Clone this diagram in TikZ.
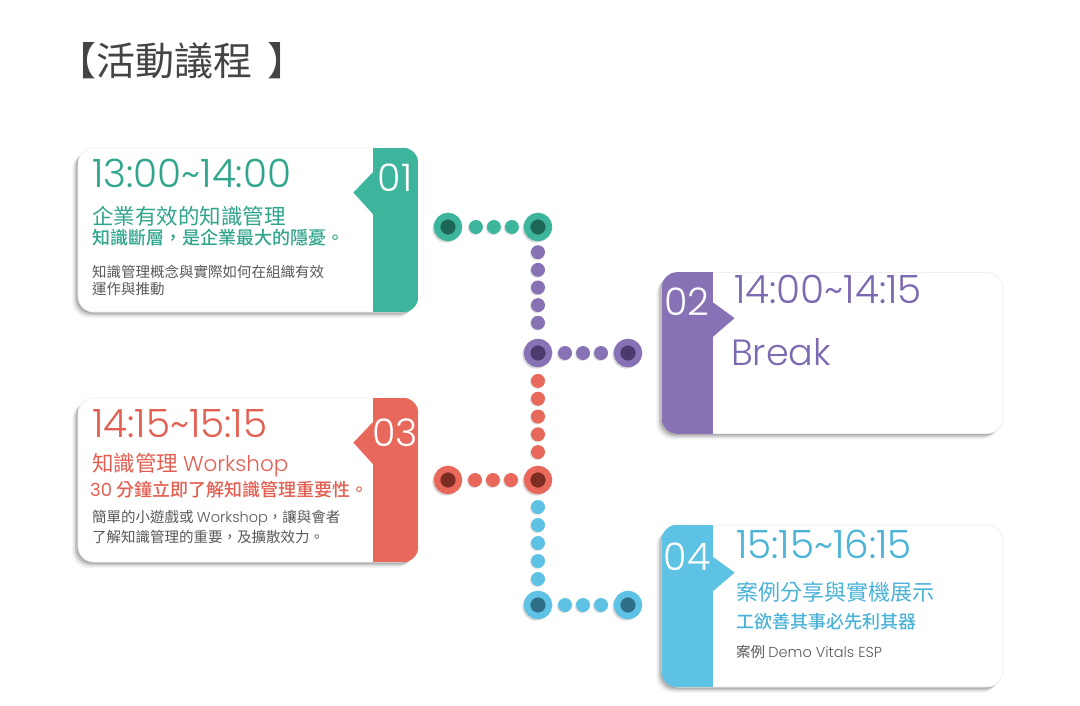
\documentclass[tikz,border=0pt]{standalone}
\usepackage{fontspec}
\usepackage{xcolor}
\usepackage{tikz}
\usetikzlibrary{shadows,calc}
\newfontfamily\cjk{Noto Sans CJK TC}
\newfontfamily\cjkmed{Noto Sans CJK TC Medium}
\newfontfamily\gothic{Poppins Light}
\newfontfamily\gothicreg{Poppins}

\definecolor{tealc}{HTML}{3DB59D}
\definecolor{tealdk}{HTML}{1E6656}
\definecolor{tealt}{HTML}{2FA58C}
\definecolor{purplec}{HTML}{8672B5}
\definecolor{purpledk}{HTML}{4A3A6E}
\definecolor{purplet}{HTML}{7C69B1}
\definecolor{redc}{HTML}{E8685C}
\definecolor{reddk}{HTML}{7E2D25}
\definecolor{redt}{HTML}{E35F52}
\definecolor{bluec}{HTML}{5DC2E4}
\definecolor{bluedk}{HTML}{2F6E85}
\definecolor{bluet}{HTML}{4BB3D8}
\definecolor{notegray}{HTML}{595959}
\definecolor{titlegray}{HTML}{444444}

\begin{document}
\begin{tikzpicture}[x=1pt,y=-1pt,
	card/.style={rectangle, rounded corners=16pt, fill=white, draw=black!6, line width=0.8pt, inner sep=0pt,
		drop shadow={shadow xshift=-6pt, shadow yshift=-6pt, opacity=.08},
		drop shadow={shadow xshift=-4.5pt, shadow yshift=-4.5pt, opacity=.15},
		drop shadow={shadow xshift=-3pt, shadow yshift=-3pt, opacity=.3},
		drop shadow={shadow xshift=-1.5pt, shadow yshift=-1.5pt, opacity=.35}},
	hub/.style 2 args={circle, inner sep=0pt, minimum size=22pt, fill=#2, draw=#1, line width=6.5pt,
		drop shadow={shadow xshift=-1.5pt, shadow yshift=-1.5pt, shadow scale=1.25, opacity=.3}},
	dot/.style={drop shadow={shadow xshift=-1pt, shadow yshift=-1pt, opacity=.25}},
	time/.style={anchor=base west, inner sep=0pt, font=\gothic\fontsize{39}{39}\selectfont},
	num/.style={inner sep=0pt, text=white, font=\gothic\fontsize{38}{38}\selectfont},
	head/.style={anchor=west, inner sep=0pt, font=\cjk\fontsize{21.5}{22}\selectfont},
	sub/.style={anchor=west, inner sep=0pt, font=\cjkmed\fontsize{18}{18}\selectfont},
	note/.style={anchor=west, inner sep=0pt, text=notegray, font=\cjk\fontsize{14.5}{15}\selectfont}]
	\useasboundingbox (0,0) rectangle (1080,705);
	\fill[white] (0,0) rectangle (1080,705);
	
	% title
	\node[anchor=west, inner sep=0pt, text=titlegray, font=\cjk\fontsize{39}{39}\selectfont] (title) at (57,61) {【活動議程\hspace{15pt}】};
	
	% draw the four cards
	\node[card, minimum width=340pt, minimum height=164pt] (c1) at (248,230) {};
	\node[card, minimum width=341pt, minimum height=161pt] (c2) at (832.5,353) {};
	\node[card, minimum width=340pt, minimum height=164pt] (c3) at (248,480) {};
	\node[card, minimum width=341pt, minimum height=162pt] (c4) at (832.5,606) {};
	
	% colour strips and their notches
	\begin{scope}
		\clip[rounded corners=16pt] (c1.north west) rectangle (c1.south east);
		\fill[tealc] ([xshift=-45pt]c1.north east) rectangle (c1.south east);
	\end{scope}
	\fill[tealc] ([xshift=-45pt,yshift=-24pt]c1.north east) -- ++(-20,21) -- ++(20,22) -- cycle;
	
	\begin{scope}
		\clip[rounded corners=16pt] (c2.north west) rectangle (c2.south east);
		\fill[purplec] (c2.north west) rectangle ([xshift=51pt]c2.south west);
	\end{scope}
	\fill[purplec] ([xshift=51pt,yshift=-30pt]c2.north west) -- ++(22,16) -- ++(-22,19) -- cycle;
	
	\begin{scope}
		\clip[rounded corners=16pt] (c3.north west) rectangle (c3.south east);
		\fill[redc] ([xshift=-45pt]c3.north east) rectangle (c3.south east);
	\end{scope}
	\fill[redc] ([xshift=-45pt,yshift=-24pt]c3.north east) -- ++(-20,21) -- ++(20,22) -- cycle;
	
	\begin{scope}
		\clip[rounded corners=16pt] (c4.north west) rectangle (c4.south east);
		\fill[bluec] (c4.north west) rectangle ([xshift=51pt]c4.south west);
	\end{scope}
	\fill[bluec] ([xshift=51pt,yshift=-32pt]c4.north west) -- ++(22,16) -- ++(-22,19) -- cycle;
	
	% card 01
	\node[num] (n1) at (395,178) {01};
	\node[time, text=tealt] (time1) at (92,187) {13:00{\char"007E}14:00};
	\node[head, text=tealt] (head1) at (92,216) {企業有效的知識管理};
	\node[sub, text=tealt] (sub1) at (92,238) {知識斷層，是企業最大的隱憂。};
	\node[note] (note1a) at (92,272) {知識管理概念與實際如何在組織有效};
	\node[note] (note1b) at (92,289) {運作與推動};
	
	% card 02
	\node[num] (n2) at (687,302) {02};
	\node[time, text=purplet] (time2) at (734,303) {14:00{\char"007E}14:15};
	\node[time, text=purplet, font=\gothic\fontsize{36.5}{36}\selectfont] (brk) at (731,365) {Break};
	
	% card 03
	\node[num] (n3) at (395,433) {03};
	\node[time, text=redt] (time3) at (92,437) {14:15{\char"007E}15:15};
	\node[head, text=redt] (head3) at (92,465) {知識管理 {\gothic Workshop}};
	\node[sub, text=redt] (sub3) at (90,490) {{\gothicreg 30} 分鐘立即了解知識管理重要性。};
	\node[note] (note3a) at (92,518) {簡單的小遊戲或 {\gothic Workshop}，讓與會者};
	\node[note] (note3b) at (92,537) {了解知識管理的重要，及擴散效力。};
	
	% card 04
	\node[num] (n4) at (687,557) {04};
	\node[time, text=bluet] (time4) at (736,558) {15:15{\char"007E}16:15};
	\node[head, text=bluet, font=\cjk\fontsize{22}{22}\selectfont] (head4) at (736,592) {案例分享與實機展示};
	\node[sub, text=bluet] (sub4) at (736,622) {工欲善其事必先利其器};
	\node[note] (note4) at (736,652) {案例 {\gothic Demo Vitals ESP}};
	
	% the big rings of the timeline
	\node[hub={tealc}{tealdk}] (ta) at (448,227) {};
	\node[hub={tealc}{tealdk}] (tb) at (538,227) {};
	\node[hub={purplec}{purpledk}] (pa) at (538,353) {};
	\node[hub={purplec}{purpledk}] (pb) at (628,353) {};
	\node[hub={redc}{reddk}] (ra) at (448,480) {};
	\node[hub={redc}{reddk}] (rb) at (538,480) {};
	\node[hub={bluec}{bluedk}] (ba) at (538,605) {};
	\node[hub={bluec}{bluedk}] (bb) at (628,605) {};
	
	% the small dots between them
	\foreach \t in {0.31,0.51,0.71}
		\fill[dot, tealc] ($(ta)!\t!(tb)$) circle (7);
	\foreach \i [evaluate=\i as \t using 0.2+0.14*\i] in {0,...,4}
		\fill[dot, purplec] ($(tb)!\t!(pa)$) circle (7);
	\foreach \t in {0.3,0.5,0.7}
		\fill[dot, purplec] ($(pa)!\t!(pb)$) circle (7);
	\foreach \i [evaluate=\i as \t using 0.22+0.14*\i] in {0,...,4}
		\fill[dot, redc] ($(pa)!\t!(rb)$) circle (7);
	\foreach \t in {0.3,0.5,0.7}
		\fill[dot, redc] ($(ra)!\t!(rb)$) circle (7);
	\foreach \i [evaluate=\i as \t using 0.216+0.144*\i] in {0,...,4}
		\fill[dot, bluec] ($(rb)!\t!(ba)$) circle (7);
	\foreach \t in {0.3,0.5,0.7}
		\fill[dot, bluec] ($(ba)!\t!(bb)$) circle (7);
\end{tikzpicture}
\end{document}
